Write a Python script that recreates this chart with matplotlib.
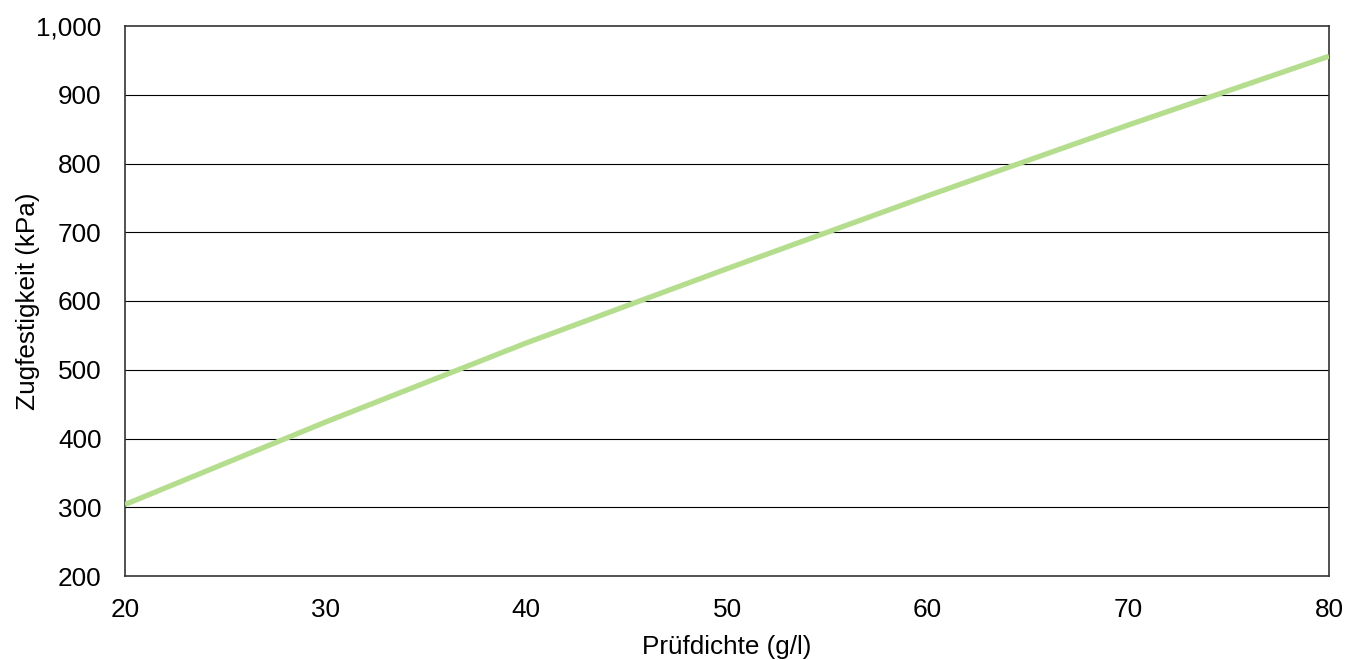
import matplotlib
matplotlib.use("Agg")
import matplotlib.pyplot as plt
from matplotlib.ticker import FuncFormatter

density = [20, 30, 40, 50, 60, 70, 80]
strength = [304, 424, 539, 647, 753, 856, 956]
x_ticks = [20, 30, 40, 50, 60, 70, 80]
y_ticks = [200, 300, 400, 500, 600, 700, 800, 900, 1000]

plt.rcParams['font.family'] = ['Liberation Sans', 'DejaVu Sans']

fig = plt.figure(figsize=(13.46, 6.6), dpi=100)
ax = fig.add_axes([125/1346, 1-576/660, (1329-125)/1346, (576-26)/660])

for t in y_ticks[1:-1]:
    ax.axhline(t, color='black', lw=0.8, zorder=1)

ax.plot(density, strength, color='#b5dd8e', lw=3.8, zorder=3, solid_capstyle='butt')

ax.set_xlim(20, 80)
ax.set_ylim(200, 1000)
ax.set_xticks(x_ticks)
ax.set_yticks(y_ticks)
ax.yaxis.set_major_formatter(FuncFormatter(lambda v, p: f"{int(v):,}"))
ax.tick_params(axis='both', length=0, labelsize=18.8, colors='black')
ax.tick_params(axis='x', pad=15.5)
ax.tick_params(axis='y', pad=17)
for s in ax.spines.values():
    s.set_color('#333333')
    s.set_linewidth(1.2)

ax.set_xlabel('Prüfdichte (g/l)', fontsize=18.8, labelpad=10)
ax.set_ylabel('Zugfestigkeit (kPa)', fontsize=18.8, labelpad=-3)

fig.savefig('out.png', dpi=100)
